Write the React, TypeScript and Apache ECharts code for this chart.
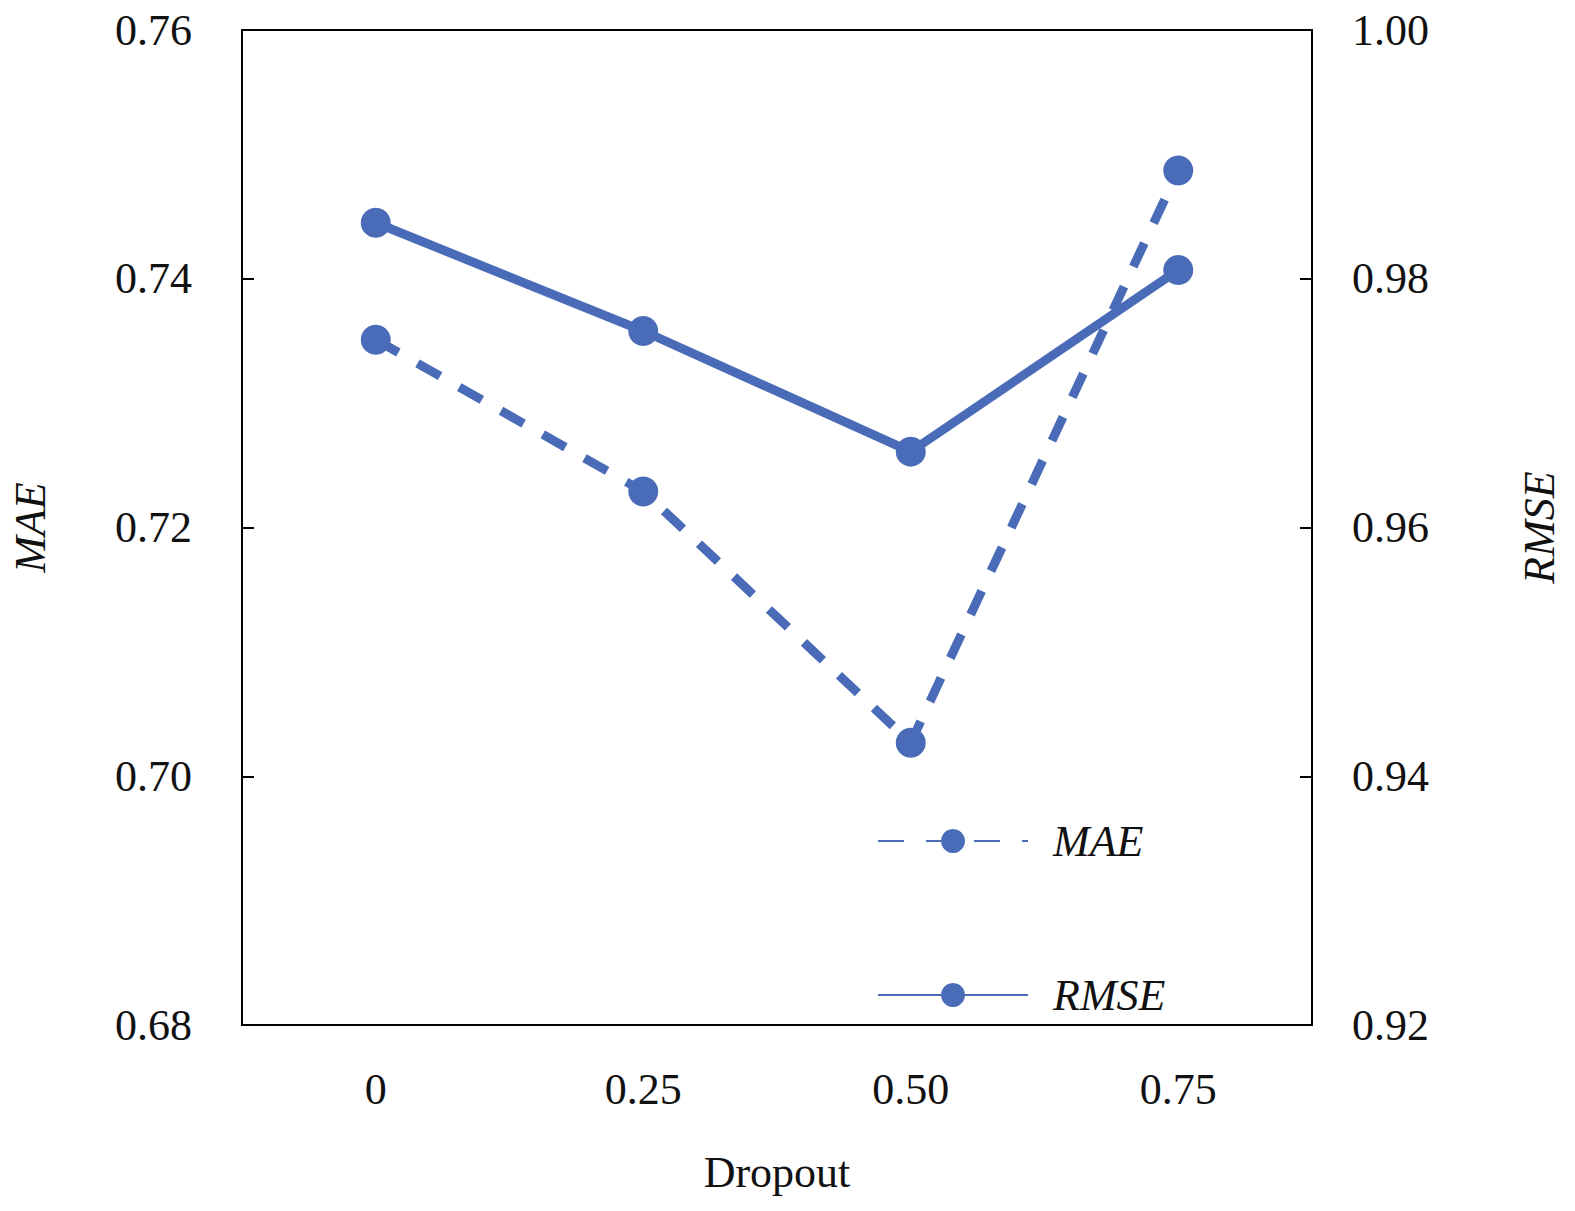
import React, { useEffect, useRef } from 'react';
import * as echarts from 'echarts';

const dropout = ['0', '0.25', '0.50', '0.75'];
const maeValues = [0.7351, 0.7229, 0.7027, 0.7487];
const rmseValues = [0.9845, 0.9758, 0.9661, 0.9807];
const maeTicks = [0.68, 0.7, 0.72, 0.74, 0.76];
const rmseTicks = [0.92, 0.94, 0.96, 0.98, 1.0];

const color = '#4a6cb8';
const font = 'Liberation Serif, Times New Roman, serif';

export default function App() {
    const chartRef = useRef<HTMLDivElement>(null);

    useEffect(() => {
        if (!chartRef.current) return;
        const chart = echarts.init(chartRef.current, undefined, { renderer: 'svg' });
        const axisText = { fontFamily: font, fontSize: 44, color: '#111' };
        chart.setOption({
            animation: false,
            grid: { left: 237, right: 263, top: 30, bottom: 186, show: true, borderColor: '#000', borderWidth: 2 },
            legend: {
                orient: 'vertical',
                left: 872,
                top: 814,
                itemWidth: 150,
                itemHeight: 30,
                itemGap: 110,
                textStyle: { ...axisText, fontStyle: 'italic', padding: [0, 0, 0, 20] },
                data: ['MAE', 'RMSE'],
            },
            xAxis: {
                type: 'category',
                data: dropout,
                boundaryGap: true,
                name: 'Dropout',
                nameLocation: 'middle',
                nameGap: 125,
                nameTextStyle: axisText,
                axisLine: { lineStyle: { color: '#000', width: 2 } },
                axisTick: { alignWithLabel: true, inside: true, length: 12, lineStyle: { color: '#000', width: 2 } },
                axisLabel: { ...axisText, margin: 42 },
            },
            yAxis: [
                {
                    type: 'value',
                    min: maeTicks[0],
                    max: maeTicks[maeTicks.length - 1],
                    interval: 0.02,
                    name: 'MAE',
                    nameLocation: 'middle',
                    nameGap: 190,
                    nameTextStyle: { ...axisText, fontStyle: 'italic' },
                    axisLine: { show: true, lineStyle: { color: '#000', width: 2 } },
                    axisTick: { show: true, inside: true, length: 12, lineStyle: { color: '#000', width: 2 } },
                    axisLabel: { ...axisText, margin: 50, formatter: (v: number) => v.toFixed(2) },
                    splitLine: { show: false },
                },
                {
                    type: 'value',
                    min: rmseTicks[0],
                    max: rmseTicks[rmseTicks.length - 1],
                    interval: 0.02,
                    name: 'RMSE',
                    nameLocation: 'middle',
                    nameGap: 205,
                    nameTextStyle: { ...axisText, fontStyle: 'italic' },
                    axisLine: { show: true, lineStyle: { color: '#000', width: 2 } },
                    axisTick: { show: true, inside: true, length: 12, lineStyle: { color: '#000', width: 2 } },
                    axisLabel: { ...axisText, margin: 40, formatter: (v: number) => v.toFixed(2) },
                    splitLine: { show: false },
                },
            ],
            series: [
                {
                    name: 'MAE',
                    type: 'line',
                    yAxisIndex: 0,
                    data: maeValues,
                    symbol: 'circle',
                    symbolSize: 30,
                    itemStyle: { color },
                    lineStyle: { color, width: 9, type: [26, 22] },
                },
                {
                    name: 'RMSE',
                    type: 'line',
                    yAxisIndex: 1,
                    data: rmseValues,
                    symbol: 'circle',
                    symbolSize: 30,
                    itemStyle: { color },
                    lineStyle: { color, width: 9 },
                },
            ],
        });
        return () => chart.dispose();
    }, []);

    return <div ref={chartRef} style={{ position: 'absolute', left: 0, top: 0, width: '1575px', height: '1211px', background: '#fff' }}></div>;
}
